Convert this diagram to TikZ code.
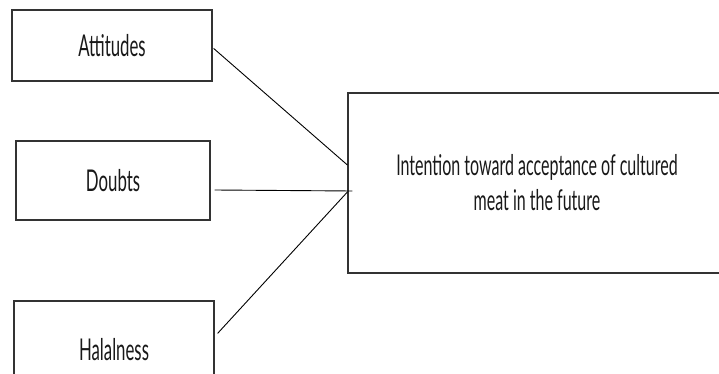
\documentclass[tikz,border=0pt]{standalone}
\usepackage{fontspec}
\usetikzlibrary{calc}
\newfontfamily\condf[FakeStretch=0.56]{Lato}
\tikzset{
  box/.style={draw=black!80, line width=1.2pt, rectangle, inner sep=0pt, align=center, text=black!90},
  lab/.style={font=\condf\fontsize{30}{34}\selectfont},
  big/.style={font=\condf\fontsize{28.6}{35}\selectfont},
  conn/.style={draw=black, line width=0.9pt}
}
\begin{document}
\begin{tikzpicture}[x=1pt,y=-1pt]
\useasboundingbox (0,0) rectangle (719,374);
\clip (0,0) rectangle (719,374);
\fill[white] (0,0) rectangle (719,374);
\node[box,lab,minimum width=200pt,minimum height=71pt] (att) at (112,45.5) {Attitudes};
\node[box,lab,minimum width=194pt,minimum height=79pt] (dou) at (113,180.5) {Doubts};
\node[box,lab,minimum width=200pt,minimum height=98pt] (hal) at (114,350) {Halalness};
\node[box,big,minimum width=378pt,minimum height=180pt] (int) at (537,183) {Intention toward acceptance of cultured\\meat in the future};
\coordinate (a1) at ($(att.north east)+(1,39)$);
\coordinate (d1) at ($(dou.east)+(4,9.5)$);
\coordinate (h1) at ($(hal.north east)+(3,33)$);
\coordinate (ia) at ($(int.west)+(0,-18)$);
\coordinate (id) at ($(int.west)+(5,8)$);
\coordinate (ih) at ($(int.west)+(0,9)$);
\draw[conn] (a1) -- (ia);
\draw[conn] (d1) -- (id);
\draw[conn] (h1) -- (ih);
\end{tikzpicture}
\end{document}
